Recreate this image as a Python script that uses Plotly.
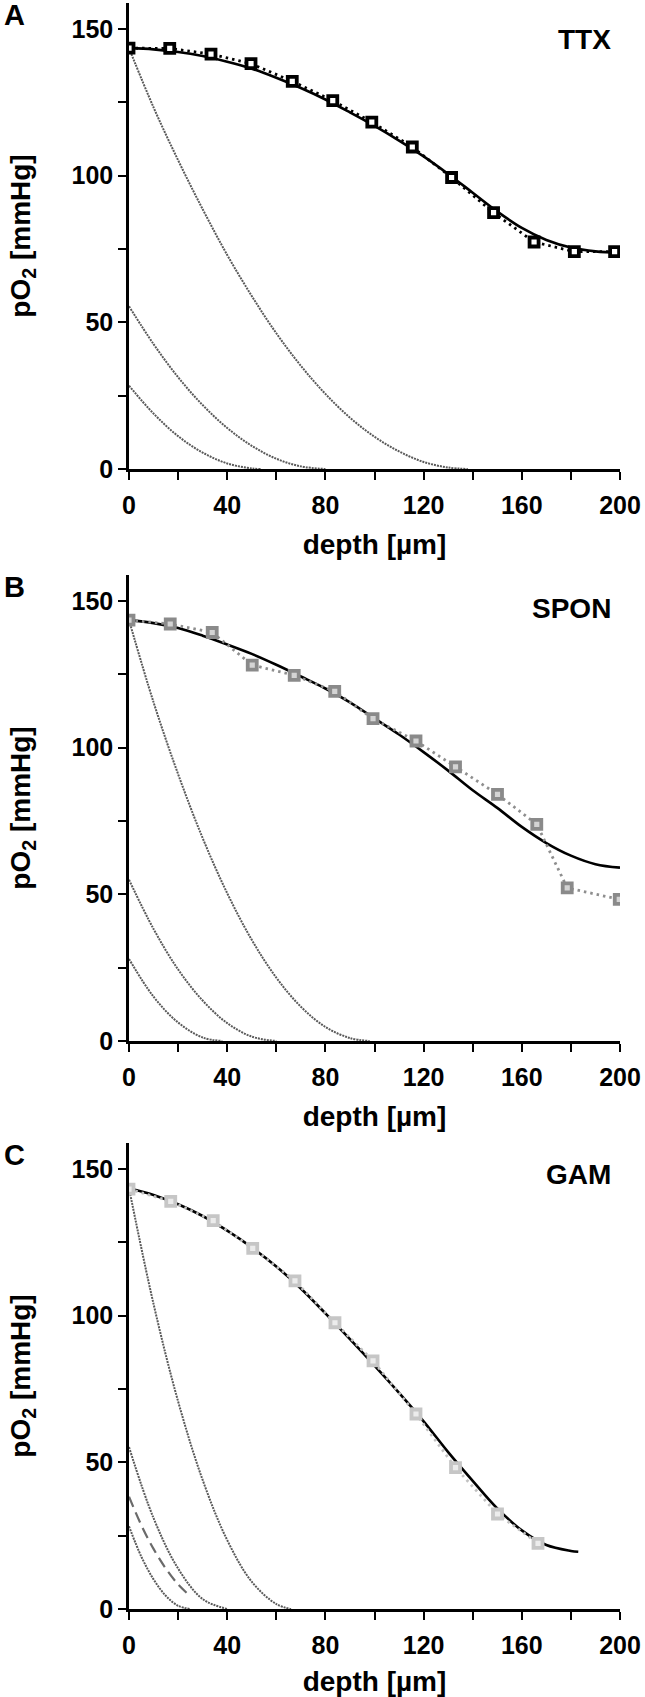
import plotly.graph_objects as go
from plotly.subplots import make_subplots

# --- measured profiles (depth in µm, pO2 in mmHg) ---
ttx_depth = [0, 16.6, 33.4, 49.7, 66.5, 83.0, 98.9, 115.4, 131.4, 148.5, 165.0, 181.4, 197.8]
ttx_po2 = [143.5, 143.4, 141.5, 138.2, 132.2, 125.6, 118.3, 109.8, 99.4, 87.4, 77.4, 74.1, 74.1]

spon_depth = [0, 16.8, 33.9, 50.2, 67.3, 83.8, 99.4, 116.9, 133.0, 150.1, 166.1, 178.5, 199.7]
spon_po2 = [143.5, 142.2, 139.3, 128.2, 124.7, 119.2, 109.9, 102.3, 93.5, 84.1, 73.9, 52.2, 48.3]

gam_depth = [0, 17.0, 34.3, 50.4, 67.6, 83.9, 99.4, 116.9, 133.0, 150.1, 166.6]
gam_po2 = [143.2, 139.0, 132.4, 123.0, 111.9, 97.6, 84.6, 66.5, 48.2, 32.4, 22.4]

# --- model fits ---
fit_depth = [0, 10, 20, 30, 40, 50, 60, 70, 80, 90, 100, 110, 120, 130, 140, 150, 160, 170, 180, 190, 200]
ttx_fit = [143.5, 143.1, 142.2, 140.8, 138.9, 136.5, 133.4, 129.9, 126.0, 121.6, 117.0,
           112.0, 106.6, 100.6, 94.2, 87.8, 82.2, 78.1, 75.5, 74.2, 73.8]
spon_fit = [143.5, 142.5, 140.8, 138.2, 135.2, 132.0, 128.3, 124.3, 120.2, 115.5, 110.0,
            104.5, 98.5, 92.2, 85.5, 79.5, 73.0, 67.5, 63.2, 60.3, 59.1]
gam_fit_depth = [0, 10, 20, 30, 40, 50, 60, 70, 80, 90, 100, 110, 120, 130, 140, 150, 160, 170, 180, 183]
gam_fit = [143.5, 141.2, 138.0, 134.0, 129.0, 123.3, 116.8, 109.3, 100.8, 92.0, 83.0,
           73.7, 64.0, 53.5, 43.7, 34.3, 26.8, 21.8, 19.8, 19.5]

# --- critical (anoxic-limit) profiles, gray dotted ---
ttx_crit = [
    ([0, 10, 20, 30, 40, 50, 60, 70, 80, 90, 100, 110, 120, 130, 138],
     [143.5, 123.3, 105.3, 88.6, 73.0, 59.0, 46.3, 35.2, 25.6, 17.5, 11.0, 6.0, 2.4, 0.5, 0]),
    ([0, 10, 20, 30, 40, 50, 60, 70, 80],
     [55.5, 42.6, 31.3, 21.8, 14.0, 7.9, 3.5, 0.9, 0]),
    ([0, 10, 20, 30, 40, 50, 54],
     [28.4, 18.9, 11.2, 5.6, 1.9, 0.2, 0]),
]
spon_crit = [
    ([0, 10, 20, 30, 40, 50, 60, 70, 80, 90, 98],
     [143.5, 115.5, 91.0, 69.2, 50.4, 34.5, 21.6, 11.7, 4.8, 1.0, 0]),
    ([0, 10, 20, 30, 40, 50, 60],
     [55.0, 38.2, 24.4, 13.8, 6.1, 1.5, 0]),
    ([0, 10, 20, 30, 38],
     [28.0, 15.1, 6.3, 1.2, 0]),
]
gam_crit = [
    ([0, 10, 20, 30, 40, 50, 60, 66],
     [143.5, 104.0, 70.8, 44.0, 23.5, 9.3, 1.7, 0]),
    ([0, 10, 20, 30, 40],
     [55.2, 31.0, 13.8, 3.4, 0]),
    ([0, 5, 10, 15, 20, 25],
     [28.2, 17.9, 10.1, 4.5, 1.1, 0]),
]
gam_dash_depth = [0, 5, 10, 15, 20, 24]
gam_dash_po2 = [38.3, 28.6, 20.5, 13.8, 8.4, 5.1]

panels = [
    ("A", "TTX", ttx_depth, ttx_po2, fit_depth, ttx_fit, ttx_crit,
     dict(fill="white", edge="black", line="black")),
    ("B", "SPON", spon_depth, spon_po2, fit_depth, spon_fit, spon_crit,
     dict(fill="#d4d4d4", edge="#8a8a8a", line="#8e8e8e")),
    ("C", "GAM", gam_depth, gam_po2, gam_fit_depth, gam_fit, gam_crit,
     dict(fill="#ececec", edge="#c6c6c6", line="#c2c2c2")),
]

W, H = 645, 1697
ML, MR, MT, MB = 129, 25, 3, 88
plot_h = H - MT - MB
base = H - MB  # pixel y of bottom of plotting area


def frac(py):
    return (base - py) / plot_h


# pixel rows (top, bottom) of each panel's axes
rows_px = [(3, 469), (575, 1041), (1143, 1609)]
label_y = [146.3, 147.6, 148.0]

fig = make_subplots(rows=3, cols=1)

font = "Liberation Sans, Arial, sans-serif"

for i, (letter, cond, dx, dy, fx, fy, crit, sty) in enumerate(panels):
    r = i + 1
    for cx, cy in crit:
        fig.add_trace(go.Scatter(x=cx, y=cy, mode="lines", line_shape="spline",
                                 line=dict(color="#5a5a5a", width=2, dash="2px,1px"),
                                 showlegend=False, hoverinfo="skip"), row=r, col=1)
    if letter == "C":
        fig.add_trace(go.Scatter(x=gam_dash_depth, y=gam_dash_po2, mode="lines", line_shape="spline",
                                 line=dict(color="#6a6a6a", width=2.2, dash="11px,6px"),
                                 showlegend=False, hoverinfo="skip"), row=r, col=1)
    fig.add_trace(go.Scatter(x=fx, y=fy, mode="lines", line_shape="spline",
                             line=dict(color="black", width=2.6),
                             showlegend=False), row=r, col=1)
    fig.add_trace(go.Scatter(x=dx, y=dy, mode="lines",
                             line=dict(color=sty["line"], width=2.8, dash="2.5px,4px"),
                             showlegend=False, hoverinfo="skip"), row=r, col=1)
    fig.add_trace(go.Scatter(x=dx, y=dy, mode="markers",
                             marker=dict(symbol="square", size=9, color=sty["fill"],
                                         line=dict(color=sty["edge"], width=3.8)),
                             showlegend=False), row=r, col=1)

    top, bot = rows_px[i]
    ax_x = "xaxis" if r == 1 else f"xaxis{r}"
    ax_y = "yaxis" if r == 1 else f"yaxis{r}"
    fig.layout[ax_x].update(
        domain=[0, 1], range=[0, 200], tickvals=[0, 40, 80, 120, 160, 200],
        showline=True, linecolor="black", linewidth=2.5, showgrid=False, zeroline=False,
        ticks="outside", ticklen=8, tickwidth=2, tickcolor="black", ticklabelstandoff=4,
        minor=dict(tickvals=[20, 60, 100, 140, 180], ticks="outside", ticklen=8,
                   tickwidth=2, tickcolor="black"),
        tickfont=dict(family=font, size=25, color="black", weight="bold"),
        title=dict(text="depth [µm]", standoff=17,
                   font=dict(family=font, size=28, color="black", weight="bold")),
    )
    fig.layout[ax_y].update(
        domain=[frac(bot), frac(top)], range=[0, 158.9], tickvals=[0, 50, 100, 150],
        showline=True, linecolor="black", linewidth=2.5, showgrid=False, zeroline=False,
        ticks="outside", ticklen=8, tickwidth=2, tickcolor="black",
        minor=dict(tickvals=[25, 75, 125], ticks="outside", ticklen=8,
                   tickwidth=2, tickcolor="black"),
        tickfont=dict(family=font, size=25, color="black", weight="bold"),
        title=dict(text="pO<sub>2</sub> [mmHg]", standoff=33,
                   font=dict(family=font, size=28, color="black", weight="bold")),
    )

    fig.add_annotation(x=(14 - ML) / (W - ML - MR), y=frac(top + 12), xref="paper", yref="paper",
                       text=f"<b>{letter}</b>", showarrow=False, xanchor="center", yanchor="middle",
                       font=dict(family=font, size=29, color="black"))
    xr = "x" if r == 1 else f"x{r}"
    yr = "y" if r == 1 else f"y{r}"
    fig.add_annotation(x=197, y=label_y[i], xref=xr, yref=yr, text=f"<b>{cond}</b>",
                       showarrow=False, xanchor="right", yanchor="middle",
                       font=dict(family=font, size=28, color="black"))

fig.update_layout(
    width=W, height=H,
    margin=dict(l=ML, r=MR, t=MT, b=MB, autoexpand=False),
    plot_bgcolor="white", paper_bgcolor="white",
    showlegend=False,
)

# drop the browser's default 8px body margin so the figure sits at the page origin
fig.write_html("out.html", config={"displayModeBar": False},
               post_script="document.body.style.margin='0px';")
